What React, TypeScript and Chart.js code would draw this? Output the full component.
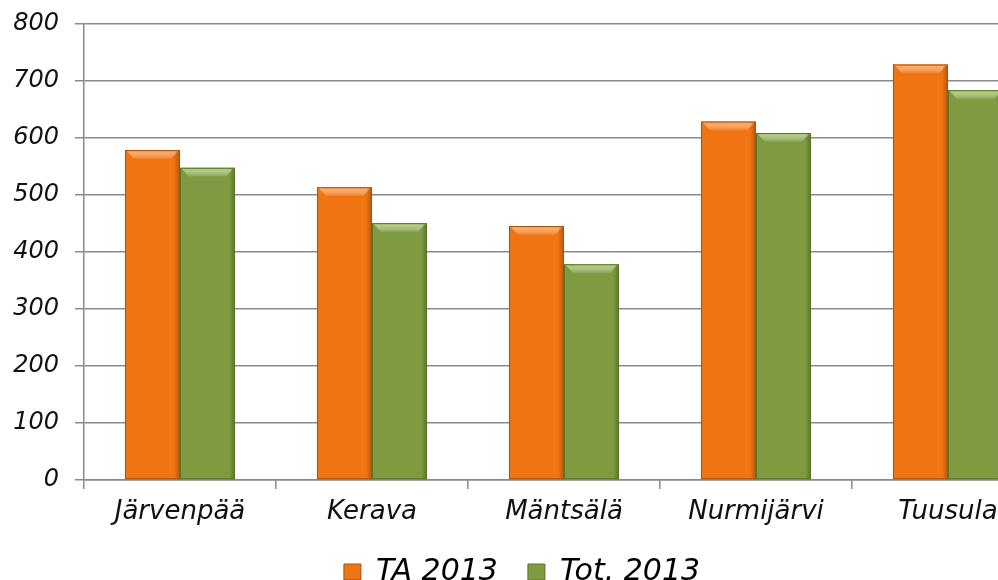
import React, { useEffect, useRef } from "react";
import { Chart, registerables } from "chart.js";

Chart.register(...registerables);

const categories = ["Järvenpää", "Kerava", "Mäntsälä", "Nurmijärvi", "Tuusula"];
const seriesNames = ["TA 2013", "Tot. 2013"];
const taValues = [578, 513, 445, 628, 728];
const totValues = [547, 450, 378, 608, 683];
const yTicks = [0, 100, 200, 300, 400, 500, 600, 700, 800];

const FONT = "'DejaVu Sans', Verdana, sans-serif";

const bevelPlugin = {
  id: "bevel",
  afterDatasetsDraw(chart: any) {
    const ctx = chart.ctx;
    const shades = [
      { light: "#F9A552", dark: "#A8500E" },
      { light: "#AFCB72", dark: "#5A7328" },
    ];
    chart.data.datasets.forEach((_: any, di: number) => {
      const meta = chart.getDatasetMeta(di);
      meta.data.forEach((bar: any) => {
        const { x, y, base, width } = bar.getProps(["x", "y", "base", "width"], true);
        const l = x - width / 2;
        const r = x + width / 2;
        const b = 9;
        ctx.save();
        const tg = ctx.createLinearGradient(0, y, 0, y + b);
        tg.addColorStop(0, shades[di].light);
        tg.addColorStop(1, "rgba(255,255,255,0.05)");
        ctx.fillStyle = tg;
        ctx.beginPath();
        ctx.moveTo(l + 1, y);
        ctx.lineTo(r - 1, y);
        ctx.lineTo(r - b, y + b);
        ctx.lineTo(l + b, y + b);
        ctx.closePath();
        ctx.fill();
        const g = ctx.createLinearGradient(r - 6, 0, r, 0);
        g.addColorStop(0, "rgba(0,0,0,0)");
        g.addColorStop(1, "rgba(0,0,0,0.25)");
        ctx.fillStyle = g;
        ctx.fillRect(r - 6, y + 1, 6, base - y - 1);
        ctx.strokeStyle = shades[di].dark;
        ctx.lineWidth = 1;
        ctx.strokeRect(l + 0.5, y + 0.5, width - 1, base - y - 1);
        ctx.restore();
      });
    });
  },
};

export default function App() {
  const ref = useRef<HTMLCanvasElement | null>(null);
  useEffect(() => {
    if (!ref.current) return;
    const chart = new Chart(ref.current, {
      type: "bar",
      data: {
        labels: categories,
        datasets: [
          {
            label: seriesNames[0],
            data: taValues,
            backgroundColor: "#F07412",
            borderWidth: 0,
            categoryPercentage: 0.573,
            barPercentage: 1,
          },
          {
            label: seriesNames[1],
            data: totValues,
            backgroundColor: "#7E9B42",
            borderWidth: 0,
            categoryPercentage: 0.573,
            barPercentage: 1,
          },
        ],
      },
      options: {
        responsive: false,
        animation: false,
        layout: { padding: { top: 17, left: 0, right: 0, bottom: 0 } },
        plugins: {
          tooltip: { enabled: false },
          legend: {
            position: "bottom",
            labels: {
              boxWidth: 17,
              boxHeight: 16,
              padding: 30,
              color: "#111",
              font: { family: FONT, size: 30, style: "italic" },
              generateLabels: (c: any) =>
                c.data.datasets.map((d: any, i: number) => ({
                  text: d.label,
                  fillStyle: d.backgroundColor,
                  strokeStyle: i === 0 ? "#A8500E" : "#5A7328",
                  lineWidth: 1,
                  datasetIndex: i,
                  hidden: false,
                })),
            },
          },
        },
        scales: {
          x: {
            grid: {
              display: true,
              offset: true,
              drawOnChartArea: false,
              drawTicks: true,
              tickLength: 9,
              color: "#8a8a8a",
              lineWidth: 1.5,
            },
            border: { display: true, color: "#8a8a8a", width: 1.5 },
            ticks: {
              color: "#111",
              padding: 8,
              font: { family: FONT, size: 26, style: "italic" },
              maxRotation: 0,
            },
            afterFit: (s: any) => {
              s.height = 47;
            },
          },
          y: {
            min: yTicks[0],
            max: yTicks[yTicks.length - 1],
            afterBuildTicks: (s: any) => {
              s.ticks = yTicks.map((v) => ({ value: v }));
            },
            grid: {
              color: "#8a8a8a",
              lineWidth: 1.5,
              tickLength: 9,
            },
            border: { display: true, color: "#8a8a8a", width: 1.5 },
            ticks: {
              color: "#111",
              padding: 16,
              font: { family: FONT, size: 24, style: "italic" },
            },
            afterFit: (s: any) => {
              s.width = 84;
            },
          },
        },
      },
      plugins: [bevelPlugin],
    });
    return () => chart.destroy();
  }, []);
  return (
    <div
      style={{
        position: "fixed",
        left: 0,
        top: 0,
        width: 998,
        height: 580,
        overflow: "hidden",
        background: "#fff",
      }}
    >
      <canvas
        ref={ref}
        width={1044}
        height={604}
        style={{ position: "absolute", left: 0, top: -7 }}
      />
    </div>
  );
}
